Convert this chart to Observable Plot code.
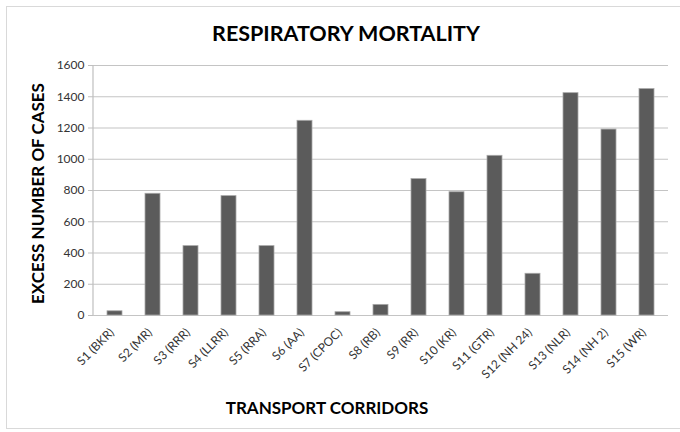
<!DOCTYPE html>
<html>
<head>
<meta charset="utf-8">
<script src="https://cdn.jsdelivr.net/npm/d3@7"></script>
<script src="https://cdn.jsdelivr.net/npm/@observablehq/plot@0.6"></script>
<style>
  html, body { margin: 0; padding: 0; background: #fff; overflow: hidden; }
  #wrap { position: relative; width: 680px; height: 432px; }
  #border { position: absolute; left: 6px; top: 6px; width: 720px; height: 423px; border: 1px solid #d9d9d9; box-sizing: border-box; }
  #chart { position: absolute; left: 0; top: 0; }
</style>
</head>
<body>
<div id="wrap"><div id="border"></div><div id="chart"></div></div>
<script>
const title = "RESPIRATORY MORTALITY";
const yLabel = "EXCESS NUMBER OF CASES";
const xLabel = "TRANSPORT CORRIDORS";
const categories = ["S1 (BKR)", "S2 (MR)", "S3 (RRR)", "S4 (LLRR)", "S5 (RRA)", "S6 (AA)", "S7 (CPOC)", "S8 (RB)", "S9 (RR)", "S10 (KR)", "S11 (GTR)", "S12 (NH 24)", "S13 (NLR)", "S14 (NH 2)", "S15 (WR)"];
const values = [27, 779, 444, 764, 444, 1246, 21, 68, 873, 789, 1022, 267, 1423, 1190, 1449];
const yTicks = [0, 200, 400, 600, 800, 1000, 1200, 1400, 1600];

const data = categories.map((c, i) => ({corridor: c, cases: values[i]}));

const leftAxisLine = (index, scales, vals, dim) => {
  const g = d3.create("svg:line")
    .attr("x1", dim.marginLeft).attr("x2", dim.marginLeft)
    .attr("y1", dim.marginTop).attr("y2", dim.height - dim.marginBottom)
    .attr("stroke", "#bfbfbf").attr("stroke-width", 1.2);
  return g.node();
};

const chart = Plot.plot({
  width: 680,
  height: 432,
  marginLeft: 93,
  marginRight: 12,
  marginTop: 65,
  marginBottom: 117,
  style: {fontFamily: "Lato, sans-serif", background: "transparent", color: "#000"},
  x: {domain: categories, paddingInner: 0.6, paddingOuter: 0.3, label: null},
  y: {domain: [0, 1600], label: null},
  marks: [
    Plot.ruleY(yTicks, {stroke: "#c4c4c4", strokeWidth: 1.2}),
    leftAxisLine,
    Plot.axisY(yTicks, {tickSize: 5, tickPadding: 4, stroke: "#bfbfbf", fill: "#333", fontSize: 12, tickFormat: d3.format("d"), label: null}),
    Plot.barY(data, {x: "corridor", y: "cases", fill: "#5b5b5b", stroke: "#a8a8a8", strokeWidth: 0.8}),
    Plot.axisX({tickSize: 0, tickPadding: 15, dx: -3, tickRotate: -45, fill: "#333", fontSize: 12, label: null}),
    Plot.text([title], {text: d => d, frameAnchor: "top", dx: -35, dy: -40, fontSize: 21.5, fontWeight: "bold", fill: "#000"}),
    Plot.text([yLabel], {text: d => d, frameAnchor: "left", textAnchor: "middle", rotate: -90, dx: -55, dy: 3, fontSize: 17, fontWeight: "bold", fill: "#000"}),
    Plot.text([xLabel], {text: d => d, frameAnchor: "bottom", dx: -54, dy: 98, fontSize: 17, fontWeight: "bold", fill: "#000"})
  ]
});
document.getElementById("chart").appendChild(chart);
</script>
</body>
</html>
